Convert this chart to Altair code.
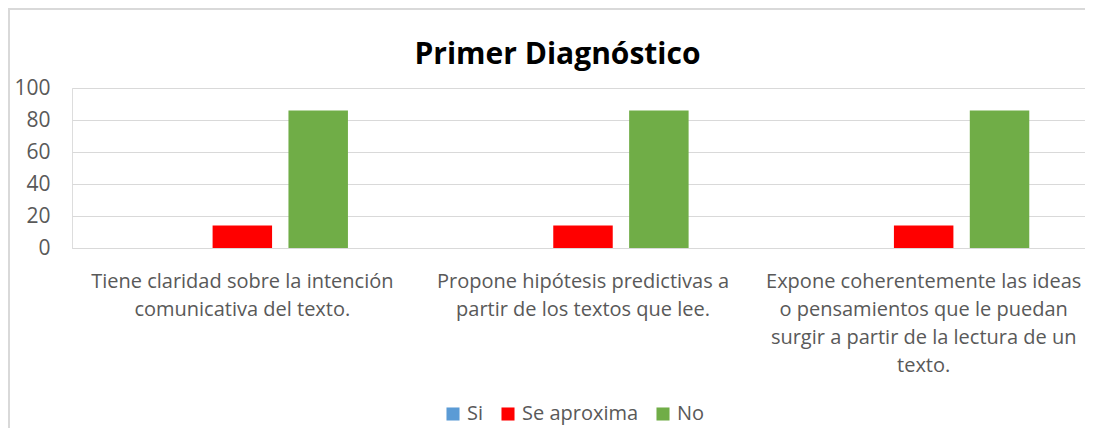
import altair as alt
import pandas as pd

categories = [
    "Tiene claridad sobre la intención\ncomunicativa del texto.",
    "Propone hipótesis predictivas a\npartir de los textos que lee.",
    "Expone coherentemente las ideas\no pensamientos que le puedan\nsurgir a partir de la lectura de un\ntexto.",
]
series = ["Si", "Se aproxima", "No"]
values_si = [0, 0, 0]
values_aprox = [14, 14, 14]
values_no = [86, 86, 86]
colors = ["#5B9BD5", "#FF0000", "#70AD47"]

rows = []
for i, c in enumerate(categories):
    for s, vals in zip(series, [values_si, values_aprox, values_no]):
        rows.append({"cat": c, "serie": s, "valor": vals[i]})
df = pd.DataFrame(rows)

FONT = "Open Sans"
GRAY = "#595959"
BORDER = "#d9d9d9"

bars = alt.Chart(df).mark_bar().encode(
    x=alt.X("cat:N", sort=categories, title=None,
            scale=alt.Scale(paddingInner=0.38, paddingOuter=0.19, range=[0, 1022]),
            axis=alt.Axis(labelAngle=0, labelExpr="split(datum.label, '\\n')",
                          labelFontSize=20, labelColor=GRAY, labelFont=FONT,
                          labelLineHeight=28, labelPadding=23, ticks=False, grid=False,
                          domainColor="#d9d9d9", labelLimit=400)),
    xOffset=alt.XOffset("serie:N", sort=series,
                        scale=alt.Scale(paddingInner=0.216, paddingOuter=0)),
    y=alt.Y("valor:Q", title=None,
            scale=alt.Scale(domain=[0, 100]),
            axis=alt.Axis(values=[0, 20, 40, 60, 80, 100], domain=False, ticks=False,
                          labelFontSize=21, labelColor=GRAY, labelFont=FONT,
                          labelPadding=22, gridColor="#d9d9d9")),
    color=alt.Color("serie:N", sort=series,
                    scale=alt.Scale(domain=series, range=colors),
                    legend=alt.Legend(title=None, orient="none", direction="horizontal",
                                      legendX=371, legendY=316,
                                      symbolType="square", symbolSize=170,
                                      symbolStrokeWidth=0,
                                      labelFontSize=20, labelColor=GRAY, labelFont=FONT,
                                      columnPadding=14, labelOffset=4)),
)

frame_data = alt.Data(values=[{"k": 1}])
left_border = alt.Chart(frame_data).mark_rule(color=BORDER, strokeWidth=2).encode(
    x=alt.value(-63), y=alt.value(-79), y2=alt.value(360))
top_border = alt.Chart(frame_data).mark_rule(color=BORDER, strokeWidth=2).encode(
    x=alt.value(-64), x2=alt.value(1013), y=alt.value(-79))

chart = alt.layer(bars, left_border, top_border).properties(
    width=1013, height=160,
    title=alt.TitleParams("Primer Diagnóstico", fontSize=30, fontWeight="bold",
                          font=FONT, color="#000000", anchor="middle", offset=-62, dx=-21),
    autosize=alt.AutoSizeParams(type="none"),
    padding={"left": 64, "top": 80, "right": 0, "bottom": 180},
).configure_view(strokeWidth=0, stroke="transparent").configure(background="white")

chart.save("out.html", embed_options={"renderer": "svg", "actions": False})
